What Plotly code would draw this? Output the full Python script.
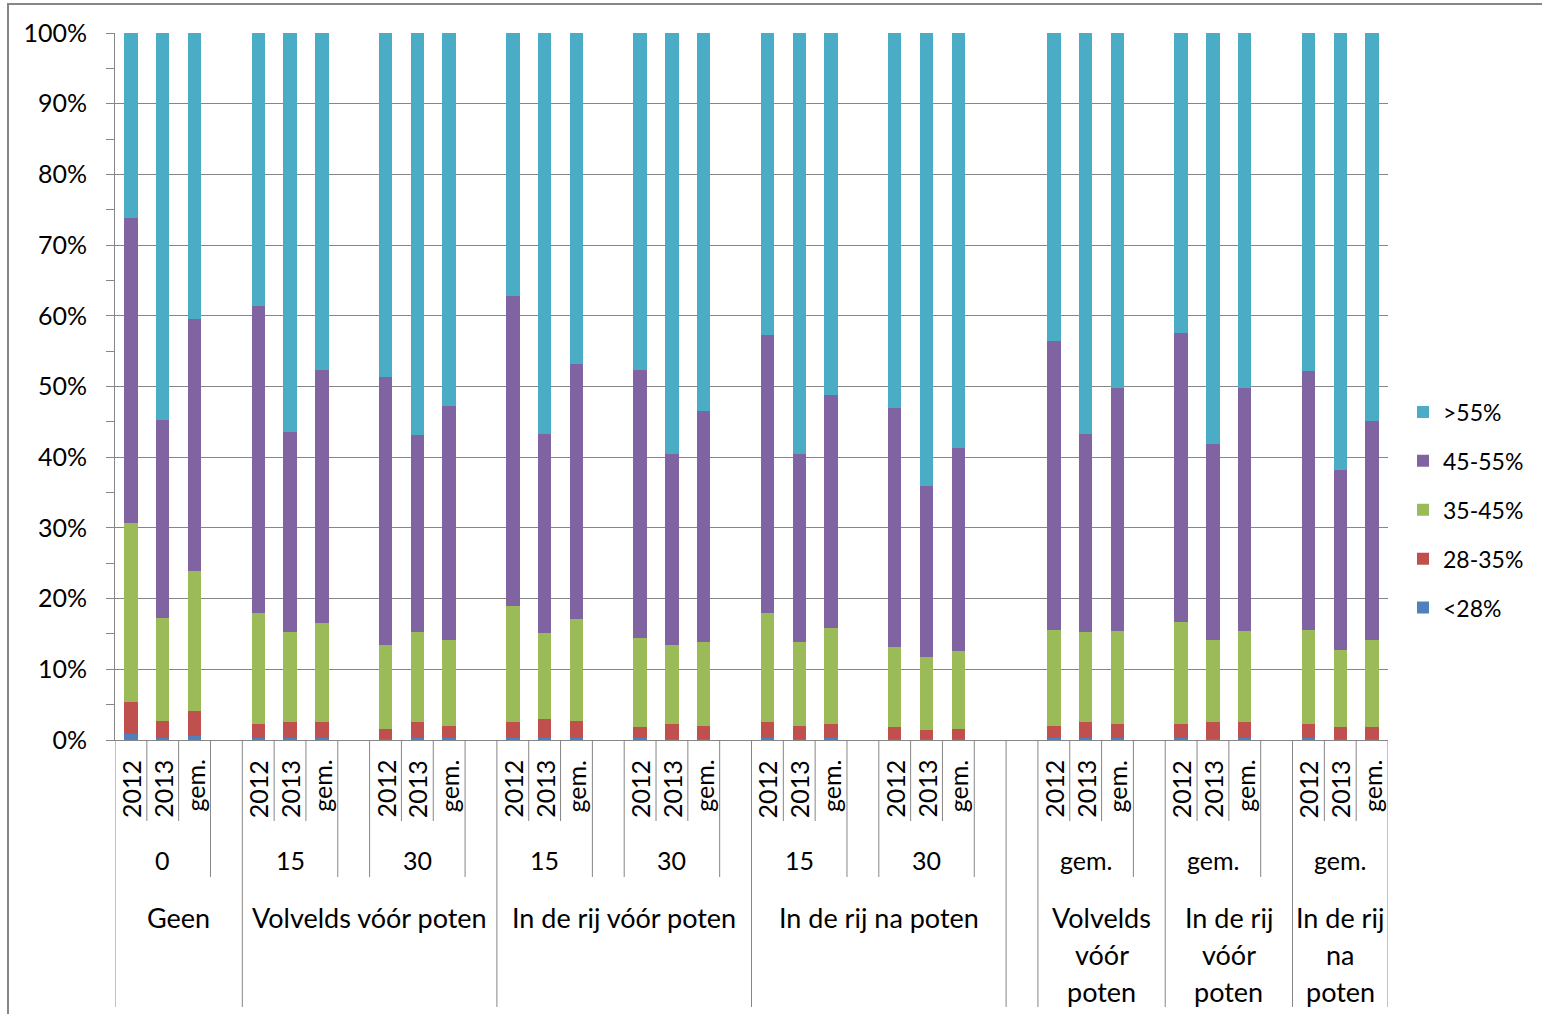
import plotly.graph_objects as go

# Category hierarchy: outer group (method), inner group (dose) and bar label (year)
outer_groups = ["Geen", "Volvelds vóór poten", "Volvelds vóór poten",
                "In de rij vóór poten", "In de rij vóór poten",
                "In de rij na poten", "In de rij na poten",
                "Volvelds<br>vóór<br>poten", "In de rij<br>vóór<br>poten",
                "In de rij<br>na<br>poten"]
inner_groups = ["0", "15", "30", "15", "30", "15", "30", "gem.", "gem.", "gem."]
bar_labels = ["2012", "2013", "gem."]

# Share (%) of each class, one value per bar (10 groups x 2012/2013/gem.)
share_lt28 = [0.9, 0.3, 0.6, 0.3, 0.3, 0.3, 0.2, 0.3, 0.3, 0.3,
              0.3, 0.3, 0.3, 0.2, 0.2, 0.3, 0.2, 0.3, 0.2, 0.1,
              0.2, 0.3, 0.3, 0.3, 0.3, 0.2, 0.3, 0.3, 0.2, 0.2]
share_28_35 = [4.5, 2.4, 3.5, 2.0, 2.3, 2.2, 1.4, 2.2, 1.7, 2.3,
               2.7, 2.4, 1.6, 2.1, 1.8, 2.2, 1.8, 1.9, 1.6, 1.3,
               1.4, 1.7, 2.3, 2.0, 2.0, 2.4, 2.2, 1.9, 1.6, 1.7]
share_35_45 = [25.3, 14.6, 19.8, 15.6, 12.7, 14.1, 11.8, 12.8, 12.2, 16.4,
               12.1, 14.4, 12.5, 11.1, 11.8, 15.4, 11.8, 13.6, 11.4, 10.3,
               11.0, 13.6, 12.7, 13.1, 14.4, 11.6, 12.9, 13.4, 10.9, 12.2]
share_45_55 = [43.2, 28.0, 35.7, 43.5, 28.2, 35.8, 38.0, 27.9, 33.0, 43.8,
               28.2, 36.1, 38.0, 27.1, 32.7, 39.4, 26.7, 33.0, 33.8, 24.2,
               28.7, 40.8, 28.0, 34.4, 40.9, 27.7, 34.4, 36.6, 25.5, 31.0]
share_gt55 = [26.1, 54.7, 40.4, 38.6, 56.5, 47.6, 48.6, 56.8, 52.8, 37.2,
              56.7, 46.8, 47.6, 59.5, 53.5, 42.7, 59.5, 51.2, 53.0, 64.1,
              58.7, 43.6, 56.7, 50.2, 42.4, 58.1, 50.2, 47.8, 61.8, 54.9]

series = [
    ("<28%", share_lt28, "#4F81BD"),
    ("28-35%", share_28_35, "#C0504D"),
    ("35-45%", share_35_45, "#9BBB59"),
    ("45-55%", share_45_55, "#8064A2"),
    (">55%", share_gt55, "#4BACC6"),
]

# Lay out the category slots: a blank slot after every inner group,
# plus an extra blank column between the per-dose block and the averages block
slots = []
bar_slots = []
for g, (outer, inner) in enumerate(zip(outer_groups, inner_groups)):
    if g == 7:
        slots.append(("", "", ""))
    for lab in bar_labels:
        bar_slots.append(len(slots))
        slots.append((outer, inner, lab))
    if g < len(outer_groups) - 1:
        slots.append((outer, "", ""))
n_slots = len(slots)

FONT = "Lato, 'Open Sans', sans-serif"
GRID = "#868686"
PLOT_LEFT, PLOT_RIGHT = 115, 1388
PLOT_TOP, PLOT_BOTTOM = 33, 740
PLOT_W = PLOT_RIGHT - PLOT_LEFT
PLOT_H = PLOT_BOTTOM - PLOT_TOP


def py(pix):
    """Vertical page pixel -> paper coordinate of the plot area."""
    return (PLOT_BOTTOM - pix) / PLOT_H


def px(pix):
    """Horizontal page pixel -> paper coordinate of the plot area."""
    return (pix - PLOT_LEFT) / PLOT_W


fig = go.Figure()
n_series = len(series)
for rank, (name, vals, color) in enumerate(series):
    fig.add_trace(go.Bar(
        x=bar_slots, y=vals, name=name, legendgroup=name,
        legendrank=n_series - rank,
        marker=dict(color=color, line=dict(width=0)),
        width=0.42,
    ))

shapes = []
annotations = []

# Divider lines of the three-level category axis
for k in range(n_slots + 1):
    if k == 0 or k == n_slots:
        bottom = 1007
    else:
        a, b = slots[k - 1], slots[k]
        if a[0] != b[0]:
            bottom = 1007
        elif a[1] != b[1]:
            bottom = 877
        else:
            bottom = 821
    shapes.append(dict(type="line", xref="x", yref="paper",
                       x0=k - 0.5, x1=k - 0.5, y0=0, y1=py(bottom),
                       line=dict(color=GRID, width=1)))

# Level 1: year labels, rotated
for i, (_, _, lab) in enumerate(slots):
    if lab:
        annotations.append(dict(x=i, y=py(758), xref="x", yref="paper",
                                text=lab, textangle=-90, showarrow=False,
                                xanchor="center", yanchor="top",
                                font=dict(family=FONT, size=25, color="#000")))


def runs(level):
    out = []
    start = 0
    for i in range(1, n_slots + 1):
        if i == n_slots or slots[i][level] != slots[start][level]:
            if slots[start][level]:
                out.append((slots[start][level], start, i - 1))
            start = i
    return out


# Level 2: dose labels
for text, s, e in runs(1):
    annotations.append(dict(x=(s + e) / 2, y=py(860), xref="x", yref="paper",
                            text=text, showarrow=False,
                            xanchor="center", yanchor="middle",
                            font=dict(family=FONT, size=25, color="#000")))

# Level 3: method labels (wrapped where the group is narrow)
for text, s, e in runs(0):
    for j, line in enumerate(text.split("<br>")):
        annotations.append(dict(x=(s + e) / 2, y=py(917 + 37 * j),
                                xref="x", yref="paper",
                                text=line, showarrow=False,
                                xanchor="center", yanchor="middle",
                                font=dict(family=FONT, size=27, color="#000")))

# Chart frame
shapes.append(dict(type="rect", xref="paper", yref="paper",
                   x0=px(8), x1=px(1560), y0=py(1030), y1=py(4),
                   line=dict(color=GRID, width=2)))

fig.update_layout(
    width=1542, height=1014,
    margin=dict(l=PLOT_LEFT, r=1542 - PLOT_RIGHT, t=PLOT_TOP,
                b=1014 - PLOT_BOTTOM, pad=0),
    paper_bgcolor="white", plot_bgcolor="white",
    barmode="stack", bargap=0,
    font=dict(family=FONT, size=25, color="#000"),
    xaxis=dict(range=[-0.5, n_slots - 0.5], showline=True, linecolor=GRID,
               linewidth=1, showticklabels=False, showgrid=False,
               zeroline=False, ticks=""),
    yaxis=dict(range=[0, 100], dtick=10, ticksuffix="%", showline=True,
               linecolor=GRID, linewidth=1, ticks="outside", ticklen=8,
               tickcolor=GRID, showgrid=True, gridcolor=GRID, gridwidth=1,
               zeroline=False, ticklabelstandoff=14,
               tickfont=dict(family=FONT, size=25, color="#000"),
               minor=dict(dtick=5, ticks="outside", ticklen=8,
                          tickcolor=GRID, showgrid=False)),
    legend=dict(x=px(1403), xanchor="left",
                y=py(510), yanchor="middle",
                traceorder="grouped", tracegroupgap=16,
                font=dict(family=FONT, size=23, color="#000"),
                bgcolor="rgba(0,0,0,0)"),
    shapes=shapes,
    annotations=annotations,
)

fig.write_html("out.html")
